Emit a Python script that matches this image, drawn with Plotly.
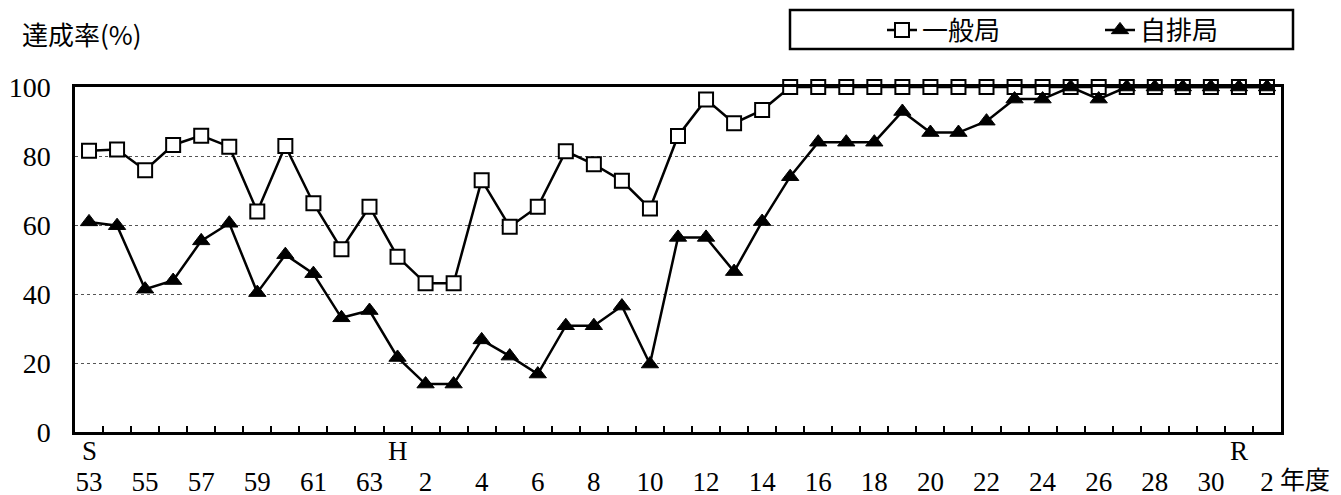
import plotly.graph_objects as go

# fiscal years, Showa 53 .. Reiwa 2
years = ["S53", "S54", "S55", "S56", "S57", "S58", "S59", "S60", "S61", "S62", "S63",
         "H1", "H2", "H3", "H4", "H5", "H6", "H7", "H8", "H9", "H10",
         "H11", "H12", "H13", "H14", "H15", "H16", "H17", "H18", "H19", "H20",
         "H21", "H22", "H23", "H24", "H25", "H26", "H27", "H28", "H29", "H30",
         "R1", "R2"]

# year numbers shown under every second year
x_labels = ["53", "", "55", "", "57", "", "59", "", "61", "", "63",
            "", "2", "", "4", "", "6", "", "8", "", "10",
            "", "12", "", "14", "", "16", "", "18", "", "20",
            "", "22", "", "24", "", "26", "", "28", "", "30",
            "", "2"]

# era letters above the first year of each era
era_years = ["S53", "H1", "R1"]
era_labels = ["S", "H", "R"]

# achievement rate (%)
ippan = [81.5, 81.9, 75.9, 83.2, 85.9, 82.7, 63.9, 82.9, 66.3, 53.0, 65.3,
         50.8, 43.1, 43.1, 73.0, 59.5, 65.3, 81.4, 77.6, 72.8, 64.8,
         85.8, 96.4, 89.5, 93.3, 100, 100, 100, 100, 100, 100,
         100, 100, 100, 100, 100, 100, 100, 100, 100, 100,
         100, 100]
jihai = [60.9, 59.8, 41.4, 43.9, 55.4, 60.5, 40.4, 51.4, 45.9, 33.1, 35.2,
         21.6, 13.9, 13.9, 26.7, 22.0, 16.8, 30.8, 30.8, 36.5, 19.7,
         56.4, 56.4, 46.5, 61.0, 74.0, 84.0, 84.0, 84.0, 92.9, 86.8,
         86.8, 90.1, 96.5, 96.5, 100, 96.5, 100, 100, 100, 100,
         100, 100]

num_font = "Liberation Serif, Noto Sans CJK JP, serif"
jp_font = "Noto Sans CJK JP, sans-serif"

fig = go.Figure()
fig.add_trace(go.Scatter(
    x=years, y=ippan, name="一般局", mode="lines+markers",
    line=dict(color="black", width=2.5),
    marker=dict(symbol="square", size=14, color="white",
                line=dict(color="black", width=2)),
    cliponaxis=False,
))
fig.add_trace(go.Scatter(
    x=years, y=jihai, name="自排局", mode="lines+markers",
    line=dict(color="black", width=2.5),
    marker=dict(symbol="triangle-up", size=15, color="black",
                line=dict(color="black", width=1)),
    cliponaxis=False,
))

# the page adds 8px body margin, so plot area: x 67..1273, y 79..424
fig.update_layout(
    width=1341,
    height=495,
    margin=dict(l=67, r=68, t=79, b=71),
    paper_bgcolor="white",
    plot_bgcolor="white",
    font=dict(family=num_font, size=27, color="black"),
    showlegend=True,
    legend=dict(
        orientation="h",
        xref="container", yref="container",
        x=874 / 1341, xanchor="left",
        y=1 - 22 / 495, yanchor="middle",
        bgcolor="rgba(0,0,0,0)",
        borderwidth=0,
        font=dict(family=jp_font, size=26),
        entrywidth=173,
    ),
    xaxis=dict(
        type="category",
        range=[-0.5, len(years) - 0.5],
        autorange=False,
        automargin=False,
        tickmode="array",
        tickvals=years,
        ticktext=x_labels,
        tickson="boundaries",
        ticks="inside",
        ticklen=6,
        tickwidth=1.5,
        tickcolor="black",
        ticklabelstandoff=24,
        showgrid=False,
        showline=True,
        linecolor="black",
        linewidth=2.5,
        mirror=True,
        tickangle=0,
        tickfont=dict(family=num_font, size=27),
    ),
    yaxis=dict(
        range=[0, 100],
        autorange=False,
        automargin=False,
        dtick=20,
        showgrid=True,
        gridcolor="#555555",
        gridwidth=1,
        griddash="dot",
        showline=True,
        linecolor="black",
        linewidth=2.5,
        mirror=True,
        ticks="",
        ticklabelstandoff=16,
        zeroline=False,
        tickfont=dict(family=num_font, size=28),
    ),
)

# legend frame
fig.add_shape(
    type="rect", xref="paper", yref="paper",
    x0=(782 - 67) / 1206, x1=(1285 - 67) / 1206,
    y0=(424 - 41) / 345, y1=(424 - 2) / 345,
    line=dict(color="black", width=2.5), fillcolor="rgba(0,0,0,0)",
)

for era_x, era_text in zip(era_years, era_labels):
    fig.add_annotation(
        text=era_text, x=era_x, xref="x", y=-0.055, yref="paper",
        yanchor="middle", showarrow=False,
        font=dict(family=num_font, size=27),
    )

fig.add_annotation(
    text="達成率(%)", xref="paper", yref="paper",
    x=-0.0455, y=1.154, xanchor="left", yanchor="middle",
    showarrow=False, font=dict(family=jp_font, size=26),
)
fig.add_annotation(
    text="年度", xref="paper", yref="paper",
    x=1.042, y=-0.14, xanchor="right", yanchor="middle",
    showarrow=False, font=dict(family=num_font, size=25),
)

fig.write_html("out.html")
